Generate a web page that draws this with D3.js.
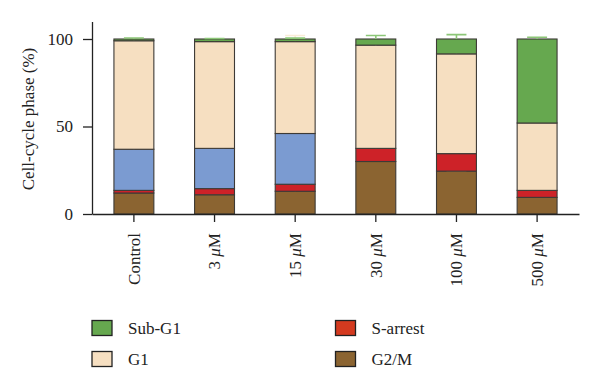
<!DOCTYPE html>
<html>
<head>
<meta charset="utf-8">
<script src="https://cdn.jsdelivr.net/npm/d3@7"></script>
<style>
  body { margin: 0; background: #fff; }
  svg text { font-family: "Liberation Serif", "DejaVu Serif", serif; fill: #222; }
</style>
</head>
<body>
<div id="chart"></div>
<script>
// categories (x axis)
var categories = ["Control", "3 \u03bcM", "15 \u03bcM", "30 \u03bcM", "100 \u03bcM", "500 \u03bcM"];

// series values (% of cells), bottom to top
var g2m     = [12,  11,   13,   30,  24.5, 9.5];
var sArrest = [1.5, 3.5,  4,    7.5, 10,   4];
var sPhase  = [23.5, 23,  29,   0,   0,    0];
var g1      = [62,  61,   52.5, 59,  57,   38.5];
var subG1   = [1,   1.5,  1.5,  3.5, 8.5,  48];

// error bars (upper only)
var g2mErr     = [0.8, 0.5, 0.8, 0.5, 0.3, 0.5];
var sArrestErr = [0.5, 0.3, 0.8, 1.0, 1.0, 0.5];
var sPhaseErr  = [1.0, 0.4, 1.3, 0,   0,   0];
var g1Err      = [1.0, 1.0, 3.5, 0.5, 3.0, 0.5];
var subG1Err   = [0.6, 0.3, 0.5, 2.0, 2.5, 1.0];

var yTicks = [0, 50, 100];

(function () {

  var width = 600, height = 388;
  var serif = "'Liberation Serif', 'DejaVu Serif', serif";

  var svg = d3.select("#chart")
    .append("svg")
    .attr("width", width)
    .attr("height", height);

  var keys = ["g2m", "sArrest", "sPhase", "g1", "subG1"];
  var colors = {
    g2m: "#8b6431",
    sArrest: "#cd2228",
    sPhase: "#7b9bd1",
    g1: "#f6dfc1",
    subG1: "#66a84f"
  };
  var errColors = {
    g2m: "#a8834e",
    sArrest: "#e06a5e",
    sPhase: "#a9c0ea",
    g1: "#f9ecd6",
    subG1: "#8cc677"
  };

  // table for the stack
  var table = categories.map(function (c, i) {
    return {
      cat: c,
      g2m: g2m[i], sArrest: sArrest[i], sPhase: sPhase[i], g1: g1[i], subG1: subG1[i],
      err: { g2m: g2mErr[i], sArrest: sArrestErr[i], sPhase: sPhaseErr[i], g1: g1Err[i], subG1: subG1Err[i] }
    };
  });

  var stacked = d3.stack().keys(keys)(table);

  //scales
  var x = d3.scaleBand()
    .domain(categories)
    .range([92, 579])
    .paddingInner(0.505)
    .paddingOuter(0.272);

  var y = d3.scaleLinear()
    .domain([0, 110])
    .range([214, 21.5]);

  //bars
  var layers = svg.selectAll(".layer")
    .data(stacked)
    .enter().append("g")
    .attr("class", "layer");

  layers.selectAll("rect")
    .data(function (s) {
      return s.map(function (d) { return { key: s.key, d: d }; });
    })
    .enter().filter(function (p) { return p.d[1] - p.d[0] > 0; })
    .append("rect")
    .attr("x", function (p) { return x(p.d.data.cat); })
    .attr("width", x.bandwidth())
    .attr("y", function (p) { return y(p.d[1]); })
    .attr("height", function (p) { return y(p.d[0]) - y(p.d[1]); })
    .attr("fill", function (p) { return colors[p.key]; })
    .attr("stroke", "#3d3a36")
    .attr("stroke-width", 1.1);

  //error bars
  layers.selectAll(".err")
    .data(function (s) {
      return s.map(function (d) { return { key: s.key, d: d }; });
    })
    .enter().filter(function (p) { return p.d[1] - p.d[0] > 0; })
    .append("path")
    .attr("class", "err")
    .attr("fill", "none")
    .attr("stroke", function (p) { return errColors[p.key]; })
    .attr("stroke-width", 1.6)
    .attr("d", function (p) {
      var cx = x(p.d.data.cat) + x.bandwidth() / 2;
      var top = y(p.d[1]);
      var e = y(p.d[1] + p.d.data.err[p.key]);
      var hw = x.bandwidth() / 4;
      return "M" + cx + "," + top + "V" + e + "M" + (cx - hw) + "," + e + "H" + (cx + hw);
    });

  //axes
  var yAxis = d3.axisLeft(y).tickValues(yTicks).tickSize(9).tickSizeOuter(0).tickPadding(10);
  svg.append("g")
    .attr("class", "axis y-axis")
    .attr("transform", "translate(92,0)")
    .call(yAxis)
    .attr("font-family", serif)
    .attr("font-size", 17);

  var xAxis = d3.axisBottom(x).tickSize(8).tickSizeOuter(0);
  var xg = svg.append("g")
    .attr("class", "axis x-axis")
    .attr("transform", "translate(0,214)")
    .call(xAxis)
    .attr("font-family", serif)
    .attr("font-size", 17);

  // rotated labels, italic mu
  xg.selectAll("text")
    .attr("transform", "rotate(-90)")
    .attr("text-anchor", "end")
    .attr("x", -19)
    .attr("y", 0)
    .attr("dy", "0.35em")
    .text(null)
    .each(function (d) {
      var t = d3.select(this);
      var parts = d.split("\u03bc");
      t.append("tspan").text(parts[0]);
      if (parts.length > 1) {
        t.append("tspan").style("font-style", "italic").text("\u03bc");
        t.append("tspan").text(parts[1]);
      }
    });

  svg.selectAll(".axis path, .axis line")
    .attr("stroke", "#222")
    .attr("stroke-width", 1.3);
  svg.selectAll(".axis text")
    .attr("fill", "#222");

  //y label
  svg.append("text")
    .attr("transform", "translate(34,119) rotate(-90)")
    .attr("text-anchor", "middle")
    .attr("font-family", serif)
    .attr("font-size", 17)
    .text("Cell-cycle phase (%)");

  //legend
  var legend = [
    { key: "subG1", label: "Sub-G1", col: 0, row: 0 },
    { key: "g1", label: "G1", col: 0, row: 1 },
    { key: "sArrest", label: "S-arrest", col: 1, row: 0 },
    { key: "g2m", label: "G2/M", col: 1, row: 1 }
  ];

  var lg = svg.selectAll(".legend")
    .data(legend)
    .enter().append("g")
    .attr("class", "legend")
    .attr("transform", function (d) {
      return "translate(" + (92 + d.col * 243.5) + "," + (320.5 + d.row * 31) + ")";
    });

  lg.append("rect")
    .attr("width", 20)
    .attr("height", 15)
    .attr("fill", function (d) { return d.key === "sArrest" ? "#d43a1f" : colors[d.key]; })
    .attr("stroke", "#222")
    .attr("stroke-width", 1.3);

  lg.append("text")
    .attr("x", 36)
    .attr("y", 7.5)
    .attr("dy", "0.35em")
    .attr("font-family", serif)
    .attr("font-size", 17)
    .text(function (d) { return d.label; });

})()
</script>
</body>
</html>
